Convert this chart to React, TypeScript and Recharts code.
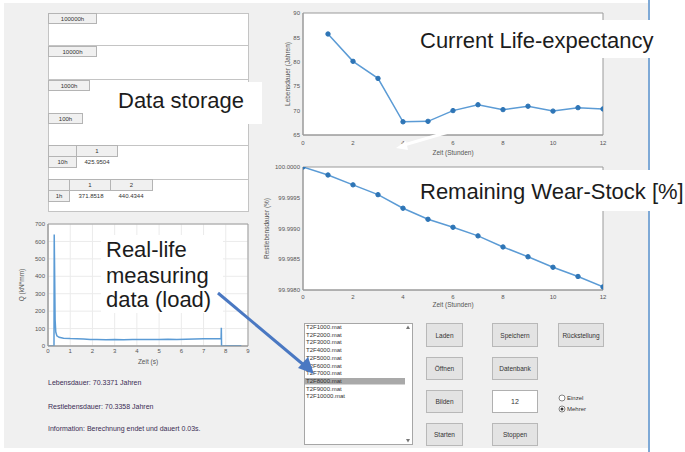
import React from 'react';
import { LineChart, Line, XAxis, YAxis, CartesianGrid, ReferenceArea } from 'recharts';

// ---------- data ----------
const hours = [1, 2, 3, 4, 5, 6, 7, 8, 9, 10, 11, 12];
const lifeExpectancy = [85.7, 80.1, 76.6, 67.7, 67.8, 70.0, 71.2, 70.2, 70.9, 69.9, 70.6, 70.34];

const wearHours = [0, 1, 2, 3, 4, 5, 6, 7, 8, 9, 10, 11, 12];
const wearStock = [100.0, 99.99987, 99.99971, 99.99955, 99.99933, 99.99915, 99.99902, 99.99888, 99.9987, 99.99854, 99.99837, 99.99822, 99.99805];

const loadTime = [0, 0.27, 0.28, 0.3, 0.32, 0.35, 0.4, 0.5, 0.7, 1.0, 1.3, 1.6, 1.9, 2.2, 2.6, 3.0, 3.4, 3.8, 4.2, 4.6, 5.0, 5.4, 5.8, 6.2, 6.6, 7.0, 7.4, 7.79, 7.8, 7.81, 7.85, 8.0, 8.7];
const loadValue = [0, 0, 640, 400, 150, 80, 58, 50, 45, 43, 42, 40, 38, 37, 36, 37, 36, 37, 38, 37, 38, 39, 38, 39, 40, 41, 42, 43, 105, 0, 0, 2, 2];

const lifeXTicks = [0, 2, 4, 6, 8, 10, 12];
const lifeYTicks = [65, 70, 75, 80, 85, 90];
const wearYTicks = [99.998, 99.9985, 99.999, 99.9995, 100];
const loadXTicks = [0, 1, 2, 3, 4, 5, 6, 7, 8, 9];
const loadYTicks = [0, 100, 200, 300, 400, 500, 600, 700];

const storageLevels = ['100000h', '10000h', '1000h', '100h'];
const table10h = ['425.9504'];
const table1h = ['371.8518', '440.4344'];
const fileList = ['T2F1000.mat', 'T2F2000.mat', 'T2F3000.mat', 'T2F4000.mat', 'T2F5000.mat', 'T2F6000.mat', 'T2F7000.mat', 'T2F8000.mat', 'T2F9000.mat', 'T2F10000.mat'];
const infoLines = ['Lebensdauer: 70.3371 Jahren', 'Restlebensdauer: 70.3358 Jahren', 'Information: Berechnung endet und dauert 0.03s.'];

const lifeData = hours.map((h, i) => ({ x: h, y: lifeExpectancy[i] }));
const wearData = wearHours.map((h, i) => ({ x: h, y: wearStock[i] }));
const loadData = loadTime.map((t, i) => ({ x: t, y: loadValue[i] }));

// ---------- styles ----------
const FONT = '"Liberation Sans", Arial, sans-serif';
const AX = '#9a9a9a';
const TK = '#555555';
const LINE = '#5b9bd5';
const DOT = '#2e75b6';

type FrameCfg = {
  xDomain: [number, number];
  xTicks: number[];
  yDomain: [number, number];
  yTicks: number[];
  xTickSize: number;
  xHeight: number;
  yWidth: number;
  xLabel: string;
  xLabelOffset: number;
  yLabel: string;
  yLabelOffset: number;
  yFormat?: (v: number) => string;
};

function frameAxes(c: FrameCfg) {
  const empty = () => '';
  return [
    <XAxis key="xb" type="number" dataKey="x" domain={c.xDomain} ticks={c.xTicks} allowDataOverflow interval={0}
      stroke={AX} tickLine={false} tickSize={c.xTickSize} tickMargin={0} height={c.xHeight}
      tick={{ fontSize: 6, fill: TK }}
      label={{ value: c.xLabel, position: 'insideBottom', offset: c.xLabelOffset, fontSize: 6.5, fill: TK }} />,
    <XAxis key="xbm" xAxisId="bm" dataKey="x" orientation="bottom" mirror type="number" domain={c.xDomain} ticks={c.xTicks}
      allowDataOverflow interval={0} height={0} axisLine={false} stroke={AX} tickSize={3} tickFormatter={empty} />,
    <XAxis key="xt" xAxisId="t" dataKey="x" orientation="top" mirror type="number" domain={c.xDomain} ticks={c.xTicks}
      allowDataOverflow interval={0} height={0} stroke={AX} tickSize={3} tickFormatter={empty} />,
    <YAxis key="yl" type="number" dataKey="y" domain={c.yDomain} ticks={c.yTicks} allowDataOverflow interval={0}
      stroke={AX} tickLine={false} tickSize={3} tickMargin={0} width={c.yWidth}
      tick={{ fontSize: 6, fill: TK }} tickFormatter={c.yFormat}
      label={{ value: c.yLabel, angle: -90, position: 'insideLeft', offset: c.yLabelOffset, textAnchor: 'middle', fontSize: 6.5, fill: TK }} />,
    <YAxis key="ylm" yAxisId="lm" dataKey="y" orientation="left" mirror type="number" domain={c.yDomain} ticks={c.yTicks}
      allowDataOverflow interval={0} width={0} axisLine={false} stroke={AX} tickSize={3} tickFormatter={empty} />,
    <YAxis key="yr" yAxisId="r" dataKey="y" orientation="right" mirror type="number" domain={c.yDomain} ticks={c.yTicks}
      allowDataOverflow interval={0} width={0} stroke={AX} tickSize={3} tickFormatter={empty} />,
    <ReferenceArea key="box" x1={c.xDomain[0]} x2={c.xDomain[1]} y1={c.yDomain[0]} y2={c.yDomain[1]}
      fill="none" fillOpacity={0} stroke={AX} strokeWidth={1} ifOverflow="visible" />,
  ];
}

function Underlay() {
  const cell = (x: number, y: number, w: number, h: number, label: string, key: string, fill = '#f0f0f0') => (
    <g key={key}>
      <rect x={x + 0.5} y={y + 0.5} width={w} height={h} fill={fill} stroke="#b4b4b4" />
      <text x={x + w / 2 + 0.5} y={y + h / 2 + 0.5} fontSize={6} fill="#333" textAnchor="middle" dominantBaseline="central">{label}</text>
    </g>
  );
  const tabY = [13, 46, 80, 113];
  const tabW = [48, 48, 41, 34];
  const rowLines = [45, 79, 145, 179];
  const buttons: [number, number, number, number, string][] = [
    [426, 323, 36, 23, 'Laden'], [492, 323, 45, 23, 'Speichern'], [558, 323, 45, 23, 'Rückstellung'],
    [426, 357, 36, 22, 'Öffnen'], [492, 357, 45, 22, 'Datenbank'],
    [426, 390, 36, 22, 'Bilden'],
    [426, 423, 36, 22, 'Starten'], [492, 423, 45, 22, 'Stoppen'],
  ];
  return (
    <svg width={685} height={452} style={{ position: 'absolute', left: 0, top: 0 }} fontFamily={FONT}>
      <rect x={0} y={0} width={685} height={452} fill="#ffffff" />
      <rect x={4} y={3} width={645} height={445} fill="#f0f0f0" />
      <rect x={648} y={0} width={2} height={452} fill="#7ea9d6" />

      {/* data storage panel */}
      <rect x={48.5} y={13.5} width={200} height={198} fill="#ffffff" stroke="#c4c4c4" />
      {rowLines.map((y) => (
        <line key={'rl' + y} x1={48.5} x2={248.5} y1={y + 0.5} y2={y + 0.5} stroke="#c4c4c4" />
      ))}
      {storageLevels.map((s, i) => cell(48, tabY[i], tabW[i], 10, s, 'tab' + i))}
      {cell(48, 145, 28, 11, '', 'h10a')}
      {cell(76, 145, 41, 11, '1', 'h10b')}
      {cell(48, 156, 28, 11, '10h', 'h10c')}
      {table10h.map((v, i) => (
        <text key={'v10' + i} x={97 + i * 41} y={162} fontSize={6} fill="#333" textAnchor="middle" dominantBaseline="central">{v}</text>
      ))}
      {cell(48, 179, 21, 11, '', 'h1a')}
      {cell(69, 179, 41, 11, '1', 'h1b')}
      {cell(110, 179, 42, 11, '2', 'h1c')}
      {cell(48, 190, 21, 11, '1h', 'h1d')}
      {table1h.map((v, i) => (
        <text key={'v1' + i} x={91 + i * 40} y={196} fontSize={6} fill="#333" textAnchor="middle" dominantBaseline="central">{v}</text>
      ))}

      {/* info texts */}
      {infoLines.map((t, i) => (
        <text key={'info' + i} x={48} y={[382, 406, 428][i]} fontSize={7} fill="#3b2d55" dominantBaseline="central">{t}</text>
      ))}

      {/* list box */}
      <rect x={304.5} y={323.5} width={108} height={121} fill="#ffffff" stroke="#a6a6a6" />
      <rect x={305} y={378} width={100} height={6.5} fill="#a9a9a9" />
      {fileList.map((f, i) => (
        <text key={'f' + i} x={306} y={327 + i * 7.7} fontSize={6} fill="#333" dominantBaseline="central">{f}</text>
      ))}
      <polygon points="406,329 410,329 408,325.5" fill="#777" />
      <polygon points="406,439 410,439 408,442.5" fill="#777" />

      {/* buttons */}
      {buttons.map(([x, y, w, h, l], i) => (
        <g key={'b' + i}>
          <rect x={x + 0.5} y={y + 0.5} width={w} height={h} fill="#e3e3e3" stroke="#b8b8b8" />
          <text x={x + w / 2 + 0.5} y={y + h / 2 + 0.5} fontSize={6.5} fill="#333" textAnchor="middle" dominantBaseline="central">{l}</text>
        </g>
      ))}
      <rect x={492.5} y={390.5} width={45} height={22} fill="#ffffff" stroke="#b0b0b0" />
      <text x={515} y={401.5} fontSize={7} fill="#333" textAnchor="middle" dominantBaseline="central">12</text>

      {/* radio buttons */}
      <circle cx={562} cy={398} r={3} fill="#fff" stroke="#666" strokeWidth={0.8} />
      <text x={567} y={398} fontSize={6} fill="#333" dominantBaseline="central">Einzel</text>
      <circle cx={562} cy={409} r={3} fill="#fff" stroke="#666" strokeWidth={0.8} />
      <circle cx={562} cy={409} r={1.5} fill="#333" />
      <text x={567} y={409} fontSize={6} fill="#333" dominantBaseline="central">Mehrer</text>
    </svg>
  );
}

function Overlay() {
  return (
    <svg width={685} height={452} style={{ position: 'absolute', left: 0, top: 0, pointerEvents: 'none' }} fontFamily={FONT}>
      {/* faint white arrow in top chart */}
      <line x1={452} y1={131} x2={404} y2={145} stroke="#ffffff" strokeWidth={3} />
      <polygon points="396,148 406,141 408,150" fill="#ffffff" />

      <rect x={105} y={82} width={157} height={42} fill="#ffffff" />
      <text x={118} y={108} fontSize={22} fill="#1c1c1c">Data storage</text>

      <rect x={415} y={20} width={237} height={38} fill="#ffffff" />
      <text x={420} y={48} fontSize={22} fill="#1c1c1c">Current Life-expectancy</text>

      <rect x={418} y={170} width={267} height={41} fill="#ffffff" />
      <text x={420} y={199} fontSize={22} fill="#1c1c1c">Remaining Wear-Stock [%]</text>

      <rect x={101} y={235} width={122} height={78} fill="#ffffff" />
      <text x={106} y={257} fontSize={22} fill="#1c1c1c">Real-life</text>
      <text x={106} y={283} fontSize={22} fill="#1c1c1c">measuring</text>
      <text x={106} y={307} fontSize={22} fill="#1c1c1c">data (load)</text>

      {/* blue arrow */}
      <line x1={218} y1={293} x2={305} y2={366} stroke="#4a78c2" strokeWidth={3} />
      <polygon points="314,374 298,368 308,357" fill="#4a78c2" />
    </svg>
  );
}

export default function App() {
  return (
    <div style={{ position: 'fixed', left: 0, top: 0, width: 685, height: 452, overflow: 'hidden', background: '#fff', fontFamily: FONT }}>
      <Underlay />

      <div style={{ position: 'absolute', left: 253, top: 0 }}>
        <LineChart width={360} height={160} data={lifeData} margin={{ top: 13, right: 10, bottom: 0, left: 0 }}>
          <CartesianGrid fill="#ffffff" horizontal={false} vertical={false} />
          {frameAxes({
            xDomain: [0, 12], xTicks: lifeXTicks, yDomain: [65, 90], yTicks: lifeYTicks,
            xTickSize: 6, xHeight: 25, yWidth: 50, xLabel: 'Zeit (Stunden)', xLabelOffset: 5,
            yLabel: 'Lebensdauer (Jahren)', yLabelOffset: 35,
          })}
          <Line type="linear" dataKey="y" stroke={LINE} strokeWidth={1.5}
            dot={{ r: 2.2, fill: DOT, stroke: DOT, strokeWidth: 1 }} isAnimationActive={false} />
        </LineChart>
      </div>

      <div style={{ position: 'absolute', left: 253, top: 160 }}>
        <LineChart width={360} height={155} data={wearData} margin={{ top: 7, right: 10, bottom: 0, left: 0 }}>
          <CartesianGrid fill="#ffffff" horizontal={false} vertical={false} />
          {frameAxes({
            xDomain: [0, 12], xTicks: lifeXTicks, yDomain: [99.998, 100], yTicks: wearYTicks,
            xTickSize: 5, xHeight: 25, yWidth: 50, xLabel: 'Zeit (Stunden)', xLabelOffset: 8,
            yLabel: 'Restlebensdauer (%)', yLabelOffset: 14, yFormat: (v: number) => v.toFixed(4),
          })}
          <Line type="linear" dataKey="y" stroke={LINE} strokeWidth={1.5}
            dot={{ r: 2.2, fill: DOT, stroke: DOT, strokeWidth: 1 }} isAnimationActive={false} />
        </LineChart>
      </div>

      <div style={{ position: 'absolute', left: 10, top: 215 }}>
        <LineChart width={250} height={155} data={loadData} margin={{ top: 9, right: 12, bottom: 0, left: 0 }}>
          <CartesianGrid fill="#ffffff" stroke="#ebebeb" />
          {frameAxes({
            xDomain: [0, 9], xTicks: loadXTicks, yDomain: [0, 700], yTicks: loadYTicks,
            xTickSize: 3, xHeight: 24, yWidth: 38, xLabel: 'Zeit (s)', xLabelOffset: 6,
            yLabel: 'Q (kN*mm)', yLabelOffset: 12,
          })}
          <Line type="linear" dataKey="y" stroke={LINE} strokeWidth={1.5} dot={false} isAnimationActive={false} />
        </LineChart>
      </div>

      <Overlay />
    </div>
  );
}
